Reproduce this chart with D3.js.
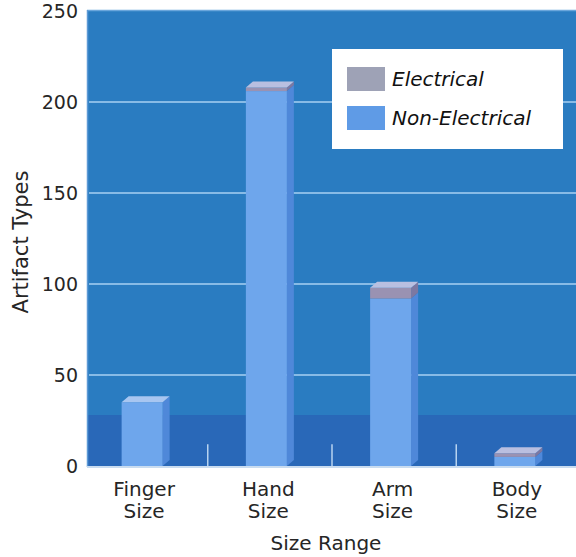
<!DOCTYPE html>
<html lang="en">
<head>
    <meta charset="UTF-8">
    <title>Artifact Types by Size Range</title>
    <script src="https://d3js.org/d3.v7.min.js"></script>
    <style>
        body { margin: 0; background: #fff; }
        text { font-family: "DejaVu Sans", sans-serif; fill: #262626; }
    </style>
</head>
<body>
    <div id="my_dataviz"></div>

 <script>
    // Data
    const categories = ["Finger Size", "Hand Size", "Arm Size", "Body Size"];
    const nonElectrical = [35, 206, 92, 5];
    const electrical = [0, 2, 6, 2];
    const series = ["Electrical", "Non-Electrical"];
    const yTicks = [0, 50, 100, 150, 200, 250];

    const colors = {
        "Electrical": {front: "#9a92b2", side: "#7c78a2", top: "#b9bfe0", swatch: "#9ea2b6"},
        "Non-Electrical": {front: "#6ea6ec", side: "#4f88d9", top: "#a8c6f1", swatch: "#5f9be6"}
    };

    const width = 576, height = 557;
    // plot box (back wall) and the 3D depth of the bars
    const plot = {left: 87, right: 576, top: 10, bottom: 467};
    const depth = {dx: 7, dy: -6};

    const svg = d3.select("#my_dataviz")
        .append("svg")
            .attr("width", width)
            .attr("height", height);

    // Scales
    const x = d3.scaleBand()
        .domain(categories)
        .range([80, 577])
        .paddingInner(0.67)
        .paddingOuter(0.335);
    const y = d3.scaleLinear()
        .domain([0, 250])
        .range([466, 11]);

    // Back wall + floor band
    svg.append("rect")
        .attr("x", plot.left)
        .attr("y", plot.top)
        .attr("width", plot.right - plot.left)
        .attr("height", plot.bottom - plot.top)
        .attr("fill", "#2a7cc1");
    svg.append("rect")
        .attr("x", plot.left)
        .attr("y", y(28))
        .attr("width", plot.right - plot.left)
        .attr("height", plot.bottom - y(28))
        .attr("fill", "#2968b8");
    // light edges
    svg.append("line")
        .attr("x1", plot.left).attr("x2", plot.right)
        .attr("y1", plot.top + 0.5).attr("y2", plot.top + 0.5)
        .attr("stroke", "#6aa6dc").attr("stroke-width", 1.5);
    svg.append("line")
        .attr("x1", plot.left + 0.5).attr("x2", plot.left + 0.5)
        .attr("y1", plot.top).attr("y2", plot.bottom)
        .attr("stroke", "#5e9ad6").attr("stroke-width", 1.5);
    svg.append("line")
        .attr("x1", plot.left).attr("x2", plot.right)
        .attr("y1", plot.bottom).attr("y2", plot.bottom)
        .attr("stroke", "#c9dcf0").attr("stroke-width", 2);

    // Gridlines
    svg.append("g")
        .selectAll("line")
        .data(yTicks.filter(d => d > 0 && d < 250))
        .join("line")
            .attr("x1", plot.left + 2)
            .attr("x2", plot.right)
            .attr("y1", d => y(d))
            .attr("y2", d => y(d))
            .attr("stroke", "#a9d0f2")
            .attr("stroke-width", 1.6);

    // Y axis labels
    svg.append("g")
        .selectAll("text")
        .data(yTicks)
        .join("text")
            .attr("x", 78)
            .attr("y", d => y(d) + 7)
            .attr("text-anchor", "end")
            .style("font-size", "19px")
            .text(d => d);

    // Category divider ticks on the floor
    svg.append("g")
        .selectAll("line")
        .data(categories.slice(1))
        .join("line")
            .attr("x1", d => x(d) - x.step() * x.paddingInner() / 2 + depth.dx / 2)
            .attr("x2", d => x(d) - x.step() * x.paddingInner() / 2 + depth.dx / 2)
            .attr("y1", y(12))
            .attr("y2", y(0))
            .attr("stroke", "#b7d3f0")
            .attr("stroke-width", 1.5);

    // Stacked 3D bars: non-electrical at the bottom, electrical on top
    const stacked = categories.map((c, i) => {
        const segs = [
            {cat: c, key: "Non-Electrical", y0: 0, y1: nonElectrical[i]},
            {cat: c, key: "Electrical", y0: nonElectrical[i], y1: nonElectrical[i] + electrical[i]}
        ];
        return segs.filter(s => s.y1 > s.y0);
    });

    const bars = svg.append("g")
        .selectAll("g")
        .data(stacked)
        .join("g");

    bars.each(function(segs) {
        const g = d3.select(this);
        segs.forEach((s, k) => {
            const x0 = x(s.cat), w = x.bandwidth();
            const yt = y(s.y1), yb = y(s.y0);
            const c = colors[s.key];
            // side face
            g.append("path")
                .attr("d", `M${x0 + w},${yb} L${x0 + w + depth.dx},${yb + depth.dy} L${x0 + w + depth.dx},${yt + depth.dy} L${x0 + w},${yt} Z`)
                .attr("fill", c.side);
            // front face
            g.append("rect")
                .attr("x", x0)
                .attr("y", yt)
                .attr("width", w)
                .attr("height", yb - yt)
                .attr("fill", c.front);
            // top face only on the last segment
            if (k === segs.length - 1) {
                g.append("path")
                    .attr("d", `M${x0},${yt} L${x0 + depth.dx},${yt + depth.dy} L${x0 + w + depth.dx},${yt + depth.dy} L${x0 + w},${yt} Z`)
                    .attr("fill", c.top);
            }
        });
    });

    // X axis labels (two lines)
    svg.append("g")
        .selectAll("text")
        .data(categories)
        .join("text")
            .attr("x", d => x(d) + x.bandwidth() / 2 + 2)
            .attr("y", 496)
            .attr("text-anchor", "middle")
            .style("font-size", "20px")
        .selectAll("tspan")
        .data(d => d.split(" "))
        .join("tspan")
            .attr("x", function() { return d3.select(this.parentNode).attr("x"); })
            .attr("dy", (d, i) => i === 0 ? 0 : 22)
            .text(d => d);

    // Axis titles
    svg.append("text")
        .attr("text-anchor", "middle")
        .attr("x", 326)
        .attr("y", 550)
        .style("font-size", "20px")
        .text("Size Range");
    svg.append("text")
        .attr("text-anchor", "middle")
        .attr("transform", "translate(28,242) rotate(-90)")
        .style("font-size", "21px")
        .text("Artifact Types");

    // Legend
    const legend = svg.append("g")
        .attr("transform", "translate(332,49)");
    legend.append("rect")
        .attr("width", 231)
        .attr("height", 100)
        .attr("fill", "#fff");
    const item = legend.selectAll("g")
        .data(series)
        .join("g")
            .attr("transform", (d, i) => `translate(15,${18 + i * 39})`);
    item.append("rect")
        .attr("width", 38)
        .attr("height", 24)
        .attr("fill", d => colors[d].swatch);
    item.append("text")
        .attr("x", 45)
        .attr("y", 19)
        .style("font-size", "20px")
        .style("font-style", "italic")
        .style("fill", "#111")
        .text(d => d);
 </script>
</body>
</html>
